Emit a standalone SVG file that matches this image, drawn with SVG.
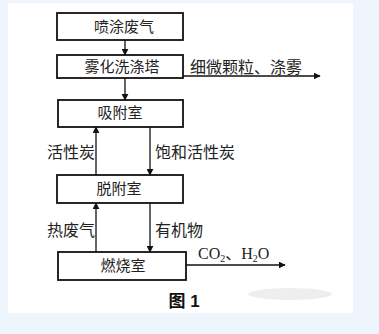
<svg xmlns="http://www.w3.org/2000/svg" width="379" height="334" viewBox="0 0 379 334">
<style>
.box{fill:#fff;stroke:#111;stroke-width:1.8}
.t{font-family:"Liberation Serif","Noto Sans CJK SC",serif;font-size:15px;fill:#222;text-anchor:middle}
.l{font-family:"Liberation Serif","Noto Sans CJK SC",serif;font-size:16px;fill:#222}
.c{stroke:#111;stroke-width:1.3;fill:none}
</style>
<defs>
<marker id="ah" viewBox="0 0 10 10" refX="9" refY="5" markerWidth="7" markerHeight="7" orient="auto" markerUnits="userSpaceOnUse">
<path d="M0,0 L10,5 L0,10 z" fill="#111"/>
</marker>
</defs>
<rect x="0" y="0" width="379" height="334" fill="#eef5fd"/>
<rect x="8" y="3" width="345" height="310" fill="#fff"/>
<ellipse cx="290" cy="294" rx="42" ry="6" fill="#e2e2e2" opacity="0.6"/>
<g id="n1"><rect class="box" x="57" y="13" width="126" height="27"/><text class="t" x="124" y="32">喷涂废气</text></g>
<g id="n2"><rect class="box" x="57" y="55" width="126" height="23"/><text class="t" x="122" y="72" font-size="16">雾化洗涤塔</text></g>
<g id="n3"><rect class="box" x="58" y="100" width="125" height="27"/><text class="t" x="120" y="118">吸附室</text></g>
<g id="n4"><rect class="box" x="57" y="175" width="126" height="28"/><text class="t" x="119" y="194">脱附室</text></g>
<g id="n5"><rect class="box" x="58" y="252" width="128" height="28"/><text class="t" x="123" y="271">燃烧室</text></g>
<g id="connectors">
<line class="c" x1="125" y1="40" x2="125" y2="55" marker-end="url(#ah)"/>
<line class="c" x1="125" y1="78" x2="125" y2="100" marker-end="url(#ah)"/>
<line class="c" x1="183" y1="76" x2="320" y2="76" marker-end="url(#ah)"/>
<line class="c" x1="96" y1="175" x2="96" y2="127" marker-end="url(#ah)"/>
<line class="c" x1="150" y1="127" x2="150" y2="175" marker-end="url(#ah)"/>
<line class="c" x1="96" y1="252" x2="96" y2="203" marker-end="url(#ah)"/>
<line class="c" x1="150" y1="203" x2="150" y2="252" marker-end="url(#ah)"/>
<line class="c" x1="186" y1="265" x2="285" y2="265" marker-end="url(#ah)"/>
</g>
<text class="l" x="190" y="73">细微颗粒、涤雾</text>
<text class="l" x="47" y="158">活性炭</text>
<text class="l" x="155" y="158">饱和活性炭</text>
<text class="l" x="47" y="236">热废气</text>
<text class="l" x="155" y="236">有机物</text>
<text class="l" x="198" y="259">CO<tspan font-size="10" dy="3">2</tspan><tspan dy="-3">、H</tspan><tspan font-size="10" dy="3">2</tspan><tspan dy="-3">O</tspan></text>
<text x="184" y="307" font-family="Liberation Sans,Noto Sans CJK SC,sans-serif" font-size="17" font-weight="bold" text-anchor="middle" fill="#111">图 1</text>
</svg>
